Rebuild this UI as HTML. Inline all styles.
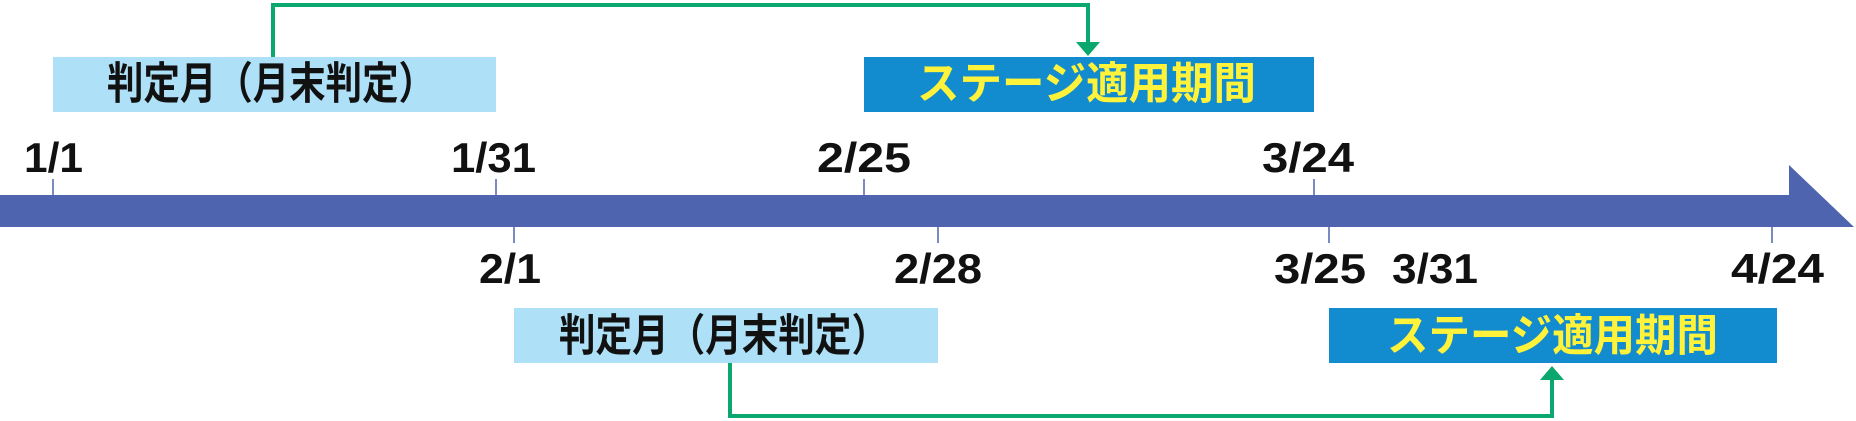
<!DOCTYPE html>
<html><head><meta charset="utf-8"><style>
html,body{margin:0;padding:0;background:#fff;}
svg{display:block;}
text{font-family:"Liberation Sans","Noto Sans CJK JP",sans-serif;font-weight:bold;}
</style></head><body>
<svg width="1856" height="421" viewBox="0 0 1856 421" xmlns="http://www.w3.org/2000/svg">
<polygon points="0,195 1789,195 1789,165 1854,227 0,227" fill="#4f64ae"/>
<g stroke="#4f64ae" stroke-width="1.5">
<line x1="53" y1="179" x2="53" y2="195"/>
<line x1="496" y1="179" x2="496" y2="195"/>
<line x1="864" y1="179" x2="864" y2="195"/>
<line x1="1314" y1="179" x2="1314" y2="195"/>
<line x1="514" y1="227" x2="514" y2="243"/>
<line x1="938" y1="227" x2="938" y2="243"/>
<line x1="1329" y1="227" x2="1329" y2="243"/>
<line x1="1772" y1="227" x2="1772" y2="243"/>
</g>
<g font-size="42" fill="#111">
<text x="24" y="172" textLength="59" lengthAdjust="spacingAndGlyphs">1/1</text>
<text x="451" y="172" textLength="85" lengthAdjust="spacingAndGlyphs">1/31</text>
<text x="817" y="172" textLength="94" lengthAdjust="spacingAndGlyphs">2/25</text>
<text x="1262" y="172" textLength="92" lengthAdjust="spacingAndGlyphs">3/24</text>
<text x="479" y="283" textLength="62" lengthAdjust="spacingAndGlyphs">2/1</text>
<text x="894" y="283" textLength="88" lengthAdjust="spacingAndGlyphs">2/28</text>
<text x="1274" y="283" textLength="92" lengthAdjust="spacingAndGlyphs">3/25</text>
<text x="1392" y="283" textLength="86" lengthAdjust="spacingAndGlyphs">3/31</text>
<text x="1731" y="283" textLength="93" lengthAdjust="spacingAndGlyphs">4/24</text>
</g>
<rect x="53" y="57" width="443" height="55" fill="#aee0f7"/>
<rect x="864" y="57" width="450" height="55" fill="#138ccf"/>
<rect x="514" y="308" width="424" height="55" fill="#aee0f7"/>
<rect x="1329" y="308" width="448" height="55" fill="#138ccf"/>
<g font-size="44">
<text x="107" y="84" dominant-baseline="central" textLength="328" lengthAdjust="spacingAndGlyphs" fill="#111">判定月（月末判定）</text>
<text x="559" y="336" dominant-baseline="central" textLength="329" lengthAdjust="spacingAndGlyphs" fill="#111">判定月（月末判定）</text>
<text x="917" y="84" dominant-baseline="central" textLength="339" lengthAdjust="spacingAndGlyphs" fill="#fff23a">ステージ適用期間</text>
<text x="1387" y="336" dominant-baseline="central" textLength="331" lengthAdjust="spacingAndGlyphs" fill="#fff23a">ステージ適用期間</text>
</g>
<g fill="none" stroke="#0aa86e" stroke-width="4">
<polyline points="273,57 273,5 1088,5 1088,44"/>
<polyline points="730,363 730,416 1552,416 1552,378"/>
</g>
<polygon points="1076,42 1100,42 1088,56" fill="#0aa86e"/>
<polygon points="1540,380 1564,380 1552,366" fill="#0aa86e"/>
</svg>
</body></html>
